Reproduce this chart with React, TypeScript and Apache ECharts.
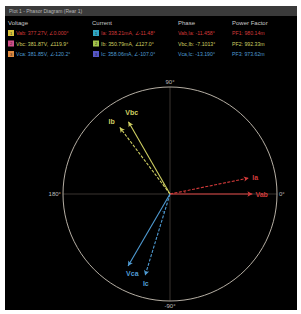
import React, { useEffect, useRef } from "react";
import * as echarts from "echarts";

const titleText = "Plot 1 - Phasor Diagram (Rear 1)";
const headers = ["Voltage", "Current", "Phase", "Power Factor"];

const voltageNames = ["Vab", "Vbc", "Vca"];
const voltageMags = [377.27, 381.87, 381.85];
const voltageAngleText = ["0.000", "119.9", "-120.2"];
const voltageAngles = [0, 119.9, -120.2];

const currentNames = ["Ia", "Ib", "Ic"];
const currentMags = [338.21, 350.79, 358.06];
const currentAngleText = ["-11.48", "127.0", "-107.0"];
const currentAngles = [11.48, 127.0, -107.0];

const phasePairs = ["Vab,Ia", "Vbc,Ib", "Vca,Ic"];
const phaseValues = ["-11.458", "-7.1013", "-13.190"];
const powerFactors = ["980.14m", "992.33m", "973.62m"];

const rowColors = ["#d23a3a", "#cfcf62", "#4f9bd3"];
const voltageIconColors = ["#d9c23a", "#d2508a", "#e08a40"];
const currentIconColors = ["#2fa6c4", "#a3c44a", "#5656c8"];

const voltageFullScale = 490;
const currentFullScale = 450;

const CX = 170;
const CY = 194;
const R = 107;

export default function App() {
  const ref = useRef<HTMLDivElement>(null);

  useEffect(() => {
    if (!ref.current) return;
    const chart = echarts.init(ref.current, null, { renderer: "svg" });
    const font = "Liberation Sans";

    const graphics: any[] = [
      { type: "rect", shape: { x: 5, y: 6, width: 292, height: 304 }, style: { fill: "#000" }, z: -10 },
      { type: "rect", shape: { x: 5, y: 6, width: 292, height: 10 }, style: { fill: "#3a3a3a" }, z: -9 },
      { type: "text", x: 9, y: 11, style: { text: titleText, fill: "#b8b8b8", fontSize: 5, fontFamily: font, verticalAlign: "middle" } },
    ];
    const colX = [8, 92, 178, 232];
    headers.forEach((h, i) => {
      graphics.push({ type: "text", x: colX[i], y: 23, style: { text: h, fill: "#c8c8c8", fontSize: 6, fontFamily: font, verticalAlign: "middle" } });
    });
    const rowY = [33, 43.5, 54];
    for (let i = 0; i < 3; i++) {
      const y = rowY[i];
      graphics.push({ type: "rect", shape: { x: 8, y: y - 3, width: 6, height: 6 }, style: { fill: voltageIconColors[i] } });
      graphics.push({ type: "text", x: 11, y, style: { text: String(i + 1), fill: "#222", fontSize: 4, fontFamily: font, align: "center", verticalAlign: "middle" } });
      graphics.push({ type: "text", x: 16, y, style: { text: `${voltageNames[i]}: ${voltageMags[i].toFixed(2)}V, ∠${voltageAngleText[i]}°`, fill: rowColors[i], fontSize: 5.2, fontFamily: font, verticalAlign: "middle" } });
      graphics.push({ type: "rect", shape: { x: 93, y: y - 3, width: 6, height: 6 }, style: { fill: currentIconColors[i] } });
      graphics.push({ type: "text", x: 96, y, style: { text: String(i + 1), fill: "#222", fontSize: 4, fontFamily: font, align: "center", verticalAlign: "middle" } });
      graphics.push({ type: "text", x: 101, y, style: { text: `${currentNames[i]}: ${currentMags[i].toFixed(2)}mA, ∠${currentAngleText[i]}°`, fill: rowColors[i], fontSize: 5.2, fontFamily: font, verticalAlign: "middle" } });
      graphics.push({ type: "text", x: 178, y, style: { text: `${phasePairs[i]}: ${phaseValues[i]}°`, fill: rowColors[i], fontSize: 5.2, fontFamily: font, verticalAlign: "middle" } });
      graphics.push({ type: "text", x: 232, y, style: { text: `PF${i + 1}: ${powerFactors[i]}`, fill: rowColors[i], fontSize: 5.2, fontFamily: font, verticalAlign: "middle" } });
    }
    // phase angle arcs between voltage and current phasors
    const arcR = [15, 12, 19];
    for (let i = 0; i < 3; i++) {
      const a1 = Math.min(voltageAngles[i], currentAngles[i]);
      const a2 = Math.max(voltageAngles[i], currentAngles[i]);
      graphics.push({
        type: "arc",
        shape: { cx: CX, cy: CY, r: arcR[i], startAngle: (-a2 * Math.PI) / 180, endAngle: (-a1 * Math.PI) / 180 },
        style: { stroke: rowColors[i], lineWidth: 0.8, lineDash: [2, 2], fill: null },
        z: 5,
      });
    }

    const labelPos: any[] = [
      { position: "right", offset: [0, 0] },
      { position: "top", offset: [2, -1] },
      { position: "bottom", offset: [3, 0] },
    ];
    const curLabelPos: any[] = [
      { position: "right", offset: [0, -1] },
      { position: "left", offset: [0, -8] },
      { position: "bottom", offset: [0, 1] },
    ];

    const makeSeries = (names: string[], mags: number[], angles: number[], polarIndex: number, dashed: boolean, lp: any[]) =>
      names.map((n, i) => ({
        type: "line",
        name: n,
        coordinateSystem: "polar",
        polarIndex,
        z: 10,
        lineStyle: { color: rowColors[i], width: 1.1, type: dashed ? [3, 1.5] : "solid" },
        itemStyle: { color: rowColors[i] },
        data: [
          { value: [0, angles[i]], symbol: "none" },
          {
            value: [mags[i], angles[i]],
            symbol: "arrow",
            symbolSize: [4, 5],
            symbolRotate: angles[i] - 90,
            label: {
              show: true,
              formatter: n,
              color: rowColors[i],
              fontSize: 7,
              fontWeight: "bold",
              fontFamily: font,
              distance: 3,
              ...lp[i],
            },
          },
        ],
      }));

    const option: any = {
      animation: false,
      backgroundColor: "#fff",
      graphic: graphics,
      polar: [
        { center: [CX, CY], radius: R },
        { center: [CX, CY], radius: R },
      ],
      angleAxis: [
        {
          polarIndex: 0,
          type: "value",
          min: -180,
          max: 180,
          interval: 90,
          startAngle: 180,
          clockwise: false,
          axisLine: { lineStyle: { color: "#c9c2b6", width: 0.9 } },
          axisTick: { show: false },
          splitLine: { show: true, lineStyle: { color: "#3a3530", width: 1 } },
          axisLabel: {
            color: "#bdbdbd",
            fontSize: 6,
            fontFamily: font,
            margin: 2,
            formatter: (v: number) => (v === 180 ? "" : v === -180 ? "180°" : `${v}°`),
          },
        },
        {
          polarIndex: 1,
          type: "value",
          min: -180,
          max: 180,
          startAngle: 180,
          clockwise: false,
          show: false,
        },
      ],
      radiusAxis: [
        { polarIndex: 0, type: "value", min: 0, max: voltageFullScale, show: false },
        { polarIndex: 1, type: "value", min: 0, max: currentFullScale, show: false },
      ],
      series: [
        ...makeSeries(voltageNames, voltageMags, voltageAngles, 0, false, labelPos),
        ...makeSeries(currentNames, currentMags, currentAngles, 1, true, curLabelPos),
      ],
    };
    chart.setOption(option);
    return () => chart.dispose();
  }, []);

  return <div ref={ref} style={{ position: "absolute", left: 0, top: 0, width: 301, height: 314 }} />;
}
